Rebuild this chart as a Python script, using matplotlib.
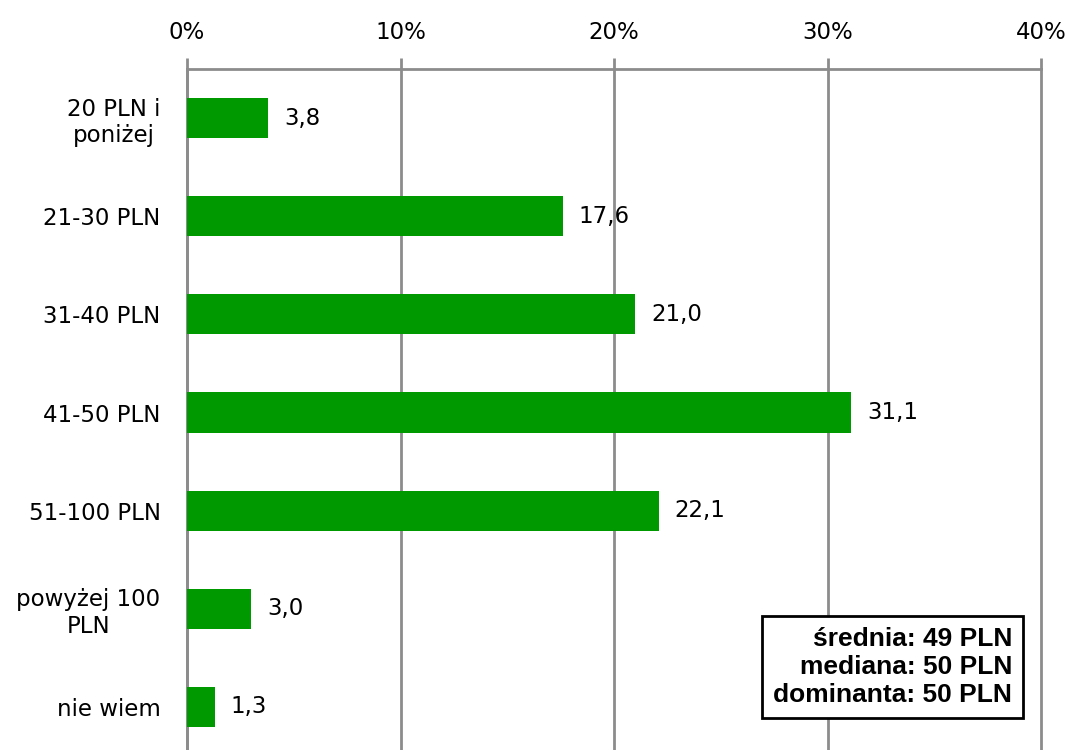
import matplotlib
matplotlib.use("Agg")
import matplotlib.pyplot as plt
from matplotlib.ticker import FuncFormatter
from matplotlib import font_manager as fm

categories = ["20 PLN i\nponiżej", "21-30 PLN", "31-40 PLN", "41-50 PLN", "51-100 PLN", "powyżej 100\nPLN", "nie wiem"]
values = [3.8, 17.6, 21.0, 31.1, 22.1, 3.0, 1.3]
x_ticks = [0, 10, 20, 30, 40]
stats_text = "średnia: 49 PLN\nmediana: 50 PLN\ndominanta: 50 PLN"

grid_color = "#8c8c8c"
bar_color = "#009900"
fs = 16.5

box_fp = None
for f in fm.findSystemFonts():
    name = f.split("/")[-1]
    if name == "LiberationSans-Bold.ttf":
        box_fp = fm.FontProperties(fname=f, size=19)
        break
if box_fp is None:
    box_fp = fm.FontProperties(family="DejaVu Sans", weight="bold", size=16)

fig = plt.figure(figsize=(10.67, 7.5), dpi=100)
ax = fig.add_axes([187/1067, 1 - 756/750, (1041-187)/1067, (756-69)/750])

y = list(range(len(categories)))
ax.barh(y, values, height=0.41, color=bar_color, zorder=3)
ax.set_ylim(len(categories) - 0.5, -0.5)
ax.set_xlim(0, 40)
ax.set_xticks(x_ticks)
ax.xaxis.set_major_formatter(FuncFormatter(lambda v, p: f"{int(v)}%"))
ax.xaxis.tick_top()
ax.tick_params(axis="x", length=8, width=2, color=grid_color, pad=10, labelsize=fs)
ax.tick_params(axis="y", length=0, pad=19, labelsize=fs)
ax.set_yticks(y)
ax.set_yticklabels(categories, ha="right", multialignment="center")
ax.grid(axis="x", color=grid_color, linewidth=2, zorder=0)
for gl in ax.get_xgridlines():
    gl.set_clip_on(False)
for s in ["right", "bottom"]:
    ax.spines[s].set_visible(False)
for s in ["top", "left"]:
    ax.spines[s].set_color(grid_color)
    ax.spines[s].set_linewidth(2)

for yi, v in zip(y, values):
    ax.text(v + 0.75, yi, f"{v:.1f}".replace(".", ","), va="center", ha="left", fontsize=fs, zorder=4)

fig.text(1012/1067, 1 - 667/750, stats_text, ha="right", va="center",
         fontproperties=box_fp, linespacing=1.22,
         bbox=dict(boxstyle="square,pad=0.42", facecolor="white", edgecolor="black", linewidth=2))

fig.savefig("out.png", dpi=100)
